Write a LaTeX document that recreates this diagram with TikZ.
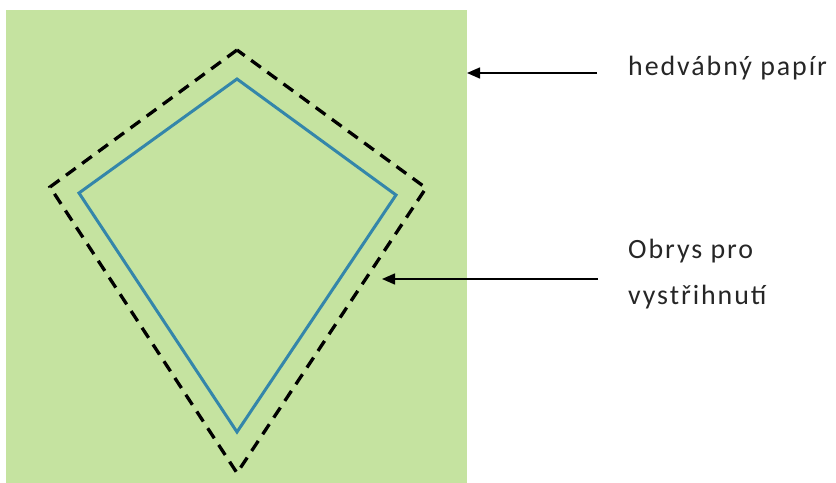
\documentclass[tikz,border=0pt]{standalone}
\usepackage{fontspec}
\setmainfont{Carlito}[LetterSpace=7]
\usetikzlibrary{arrows.meta}
\definecolor{paper}{HTML}{C5E3A0}
\definecolor{outline}{HTML}{3486AA}
\tikzset{
  lbl/.style={anchor=west,inner sep=0pt,align=left,font=\fontsize{28}{46}\selectfont,text=black!85},
  pointer/.style={line width=1.5bp,-{Triangle[length=13bp,width=11bp]}},
  cutline/.style={line width=3.3bp,dash pattern=on 12bp off 8bp,line join=miter},
  kiteline/.style={line width=3bp,draw=outline,line join=miter}
}
\begin{document}
\begin{tikzpicture}[x=1bp,y=-1bp]
\useasboundingbox (0,0) rectangle (836,483);
\fill[paper] (6,10) rectangle (467,483);
% blue kite
\coordinate (bt) at (237,79);
\coordinate (bl) at (79,193);
\coordinate (bb) at (237,432);
\coordinate (br) at (396,195);
\draw[kiteline] (bt) -- (bl) -- (bb) -- (br) -- cycle;
% dashed cut outline
\coordinate (dt) at (237,50);
\coordinate (dl) at (50,187);
\coordinate (db) at (237,473);
\coordinate (dr) at (426,188);
\draw[cutline] (dt) -- (dl) -- (db) -- (dr) -- cycle;
% labels
\node[lbl] (l1) at (628,68) {hedvábný papír};
\node[lbl] (l2) at (628,274) {Obrys pro\\vystřihnutí};
\coordinate (e1) at (597,73);
\coordinate (t1) at (467,73);
\coordinate (e2) at (598,279);
\coordinate (t2) at (382,279);
\draw[pointer] (e1) -- (t1);
\draw[pointer] (e2) -- (t2);
\end{tikzpicture}
\end{document}
